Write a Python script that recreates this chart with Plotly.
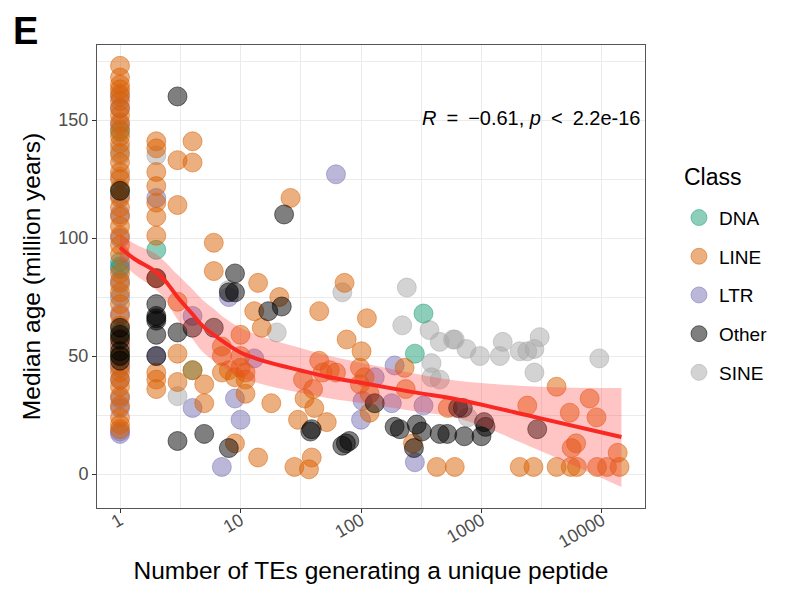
import plotly.graph_objects as go

# ---------------- data ----------------
classes = ["DNA", "LINE", "LTR", "Other", "SINE"]

dna_x = [1, 1, 1, 1, 1, 1, 2, 4, 280, 330]
dna_y = [145, 120, 90, 87, 60, 50, 95, 44, 51, 68]

line_x = ([1] * 42 +
          [2] * 11 +
          [3] * 5 +
          [4] * 3 +
          [5, 5, 6, 6, 7, 7, 7, 8, 9, 9, 10, 10, 10, 11, 11, 11, 13, 14, 14, 15,
           18, 21, 26, 28, 30, 33, 34, 37, 39, 40, 41, 45, 45, 48, 52, 55, 62,
           73, 76, 98, 98, 101, 107, 112, 118, 118, 230, 235, 270, 425, 525, 600,
           2075, 2400, 2700, 4200, 4200, 5400, 5500, 5600, 6100, 6200, 7900, 9000,
           9100, 11000, 13500, 14000])
line_y = ([173, 168, 165, 163, 161, 158, 155, 152, 149, 146, 143, 140, 136, 132,
           128, 125, 121, 117, 113, 109, 105, 101, 97, 93, 85, 81, 77, 72, 67, 63,
           58, 54, 50, 46, 43, 40, 37, 33, 29, 24, 21, 19] +
          [141, 138, 128, 122, 115, 109, 101, 83, 43, 40, 36] +
          [133, 114, 73, 51, 39] +
          [141, 132, 44] +
          [38, 30, 98, 86, 54, 50, 43, 44, 41, 13, 59, 50, 45, 43, 40, 34, 69, 81, 7, 62,
           30, 75, 117, 3, 23, 40, 32, 2, 7, 36, 28, 69, 48, 43, 22, 44, 43,
           81, 57, 45, 38, 52, 41, 66, 26, 34, 45, 36, 13, 3, 28, 3,
           3, 29, 3, 37, 3, 26, 3, 11, 13, 3, 32, 24,
           3, 3, 9, 3])

ltr_x = [1] * 17 + [2, 2, 4, 4, 7, 8, 9, 10, 13, 62, 100, 103, 130, 180, 190, 280, 330]
ltr_y = ([160, 155, 148, 118, 110, 100, 88, 82, 75, 68, 55, 45, 40, 32, 28, 18, 17] +
         [117, 50, 67, 28, 3, 75, 32, 23, 49, 127, 23, 31, 41, 30, 46, 5, 29])

other_x = ([1] * 7 + [2] * 7 +
           [3, 3, 3, 4, 5, 6, 8, 8, 9, 9, 17, 22, 23, 38, 39, 70, 75, 80, 130,
            190, 210, 275, 290, 320, 450, 520, 640, 700, 720, 1000, 1050, 1080, 2900])
other_y = ([120, 62, 59, 57, 52, 50, 48] + [83, 72, 67, 66, 65, 59, 50] +
           [160, 60, 14, 62, 17, 62, 77, 11, 85, 77, 69, 71, 110, 18, 19, 12, 13, 14, 30,
            20, 19, 11, 21, 18, 17, 17, 28, 28, 16, 16, 22, 20, 19])

sine_x = [1, 1, 1, 1, 1, 2, 3, 8, 20, 70, 220, 240, 370, 385, 385, 450, 450, 580,
          600, 750, 770, 970, 1420, 1500, 2075, 2400, 2750, 2750, 3040, 9500]
sine_y = [138, 135, 126, 80, 75, 135, 33, 78, 60, 77, 63, 79, 61, 47, 41, 56, 40, 57,
          57, 53, 24, 50, 50, 56, 52, 52, 53, 43, 58, 49]

# smooth fit and its confidence band
fit_x = [1, 1.33, 1.95, 2.36, 3.0, 3.95, 4.8, 6.0, 7.0, 10, 16.6, 31, 55, 103, 269, 660, 3030, 14500]
fit_y = [96, 91, 86, 82, 75, 68, 63, 59, 56.5, 51.5, 47.5, 44, 41, 38.6, 34.7, 31.4, 23.7, 15.7]
fit_hi = [101.5, 97.5, 93.5, 90, 84.5, 78.5, 74, 70, 67, 62, 57.5, 53.5, 50, 47, 42.7, 39.4, 37, 36.5]
fit_lo = [90.5, 84.5, 78.5, 74, 65.5, 57.5, 52, 48, 46, 41, 37.5, 34.5, 32, 30, 26.7, 23.4, 10, -5.5]

x_tickvals = [1, 10, 100, 1000, 10000]
x_ticktext = ["1", "10", "100", "1000", "10000"]
y_tickvals = [0, 50, 100, 150]

# ---------------- styling ----------------
colors = {
    "DNA": (27, 158, 119),
    "LINE": (217, 95, 2),
    "LTR": (117, 112, 179),
    "Other": (0, 0, 0),
    "SINE": (168, 168, 168),
}
data = {
    "DNA": (dna_x, dna_y),
    "LINE": (line_x, line_y),
    "LTR": (ltr_x, ltr_y),
    "Other": (other_x, other_y),
    "SINE": (sine_x, sine_y),
}
draw_order = ["LTR", "SINE", "DNA", "LINE", "Other"]
FONT = "Liberation Sans, Arial, Helvetica, sans-serif"

PLOT_H = 463
MT, MB, ML, MR = 37, 88, 89, 153

fig = go.Figure()
for c in draw_order:
    r, g, b = colors[c]
    xs, ys = data[c]
    fig.add_trace(go.Scatter(
        x=xs, y=ys, mode="markers", name=c, legendgroup=c,
        legendrank=classes.index(c) + 1,
        marker=dict(size=19, color=f"rgba({r},{g},{b},0.5)",
                    line=dict(width=1, color=f"rgba({r},{g},{b},0.5)")),
    ))

# ribbon + smooth line
fig.add_trace(go.Scatter(x=fit_x, y=fit_hi, mode="lines", line=dict(width=0, shape="spline"),
                         showlegend=False, hoverinfo="skip"))
fig.add_trace(go.Scatter(x=fit_x, y=fit_lo, mode="lines", line=dict(width=0, shape="spline"),
                         fill="tonexty", fillcolor="rgba(255,60,60,0.3)",
                         showlegend=False, hoverinfo="skip"))
fig.add_trace(go.Scatter(x=fit_x, y=fit_y, mode="lines",
                         line=dict(width=4, color="rgb(250,40,35)", shape="spline"),
                         showlegend=False, hoverinfo="skip"))

grid = "#EBEBEB"
minor_x = [10 ** (k + 0.5) for k in range(-1, 5)]
fig.update_xaxes(
    type="log", range=[-0.191, 4.357], automargin=False,
    tickvals=x_tickvals, ticktext=x_ticktext, tickangle=-30,
    tickfont=dict(size=18, color="#4D4D4D", family=FONT),
    ticks="outside", ticklen=4, tickcolor="#333333", ticklabelstandoff=-10,
    showgrid=True, gridcolor=grid, gridwidth=1.2,
    minor=dict(tickvals=minor_x, showgrid=True, gridcolor=grid, gridwidth=0.6, ticks=""),
    showline=True, linecolor="#555555", linewidth=1, mirror=True, zeroline=False,
    title=dict(text="Number of TEs generating a unique peptide",
               font=dict(size=24.5, color="black", family=FONT), standoff=10),
)
fig.update_yaxes(
    range=[-14.4, 181.8], automargin=False,
    tickvals=y_tickvals,
    tickfont=dict(size=18, color="#4D4D4D", family=FONT),
    ticks="outside", ticklen=4, tickcolor="#333333",
    showgrid=True, gridcolor=grid, gridwidth=1.2,
    minor=dict(tickvals=[25, 75, 125, 175], showgrid=True, gridcolor=grid, gridwidth=0.6, ticks=""),
    showline=True, linecolor="#555555", linewidth=1, mirror=True, zeroline=False,
    title=dict(text="Median age (million years)",
               font=dict(size=24.5, color="black", family=FONT), standoff=10),
)

fig.add_annotation(text="<i>R</i>\u2002=\u2002\u22120.61,\u00a0<i>p</i>\u2002&lt;\u20022.2e-16",
                   xref="paper", yref="y", x=0.997, y=151, xanchor="right", yanchor="middle",
                   showarrow=False, font=dict(size=20, color="black", family=FONT))
fig.add_annotation(text="<b>E</b>", xref="paper", yref="paper",
                   x=-0.157, y=1 + MT / PLOT_H, xanchor="left", yanchor="top",
                   showarrow=False, font=dict(size=38, color="black", family=FONT))
fig.add_annotation(text="Class", xref="paper", yref="paper",
                   x=1.068, y=(508 - 177) / PLOT_H, xanchor="left", yanchor="middle",
                   showarrow=False, font=dict(size=23, color="black", family=FONT))

fig.update_layout(
    width=790, height=588,
    margin=dict(l=ML, r=MR, t=MT, b=MB),
    plot_bgcolor="white", paper_bgcolor="white",
    font=dict(family=FONT),
    legend=dict(
        font=dict(size=19, color="black", family=FONT),
        x=1.062, xanchor="left", y=0.668, yanchor="top",
        traceorder="grouped", tracegroupgap=11,
        itemsizing="trace", bgcolor="rgba(0,0,0,0)",
    ),
)

fig.write_html("out.html")
